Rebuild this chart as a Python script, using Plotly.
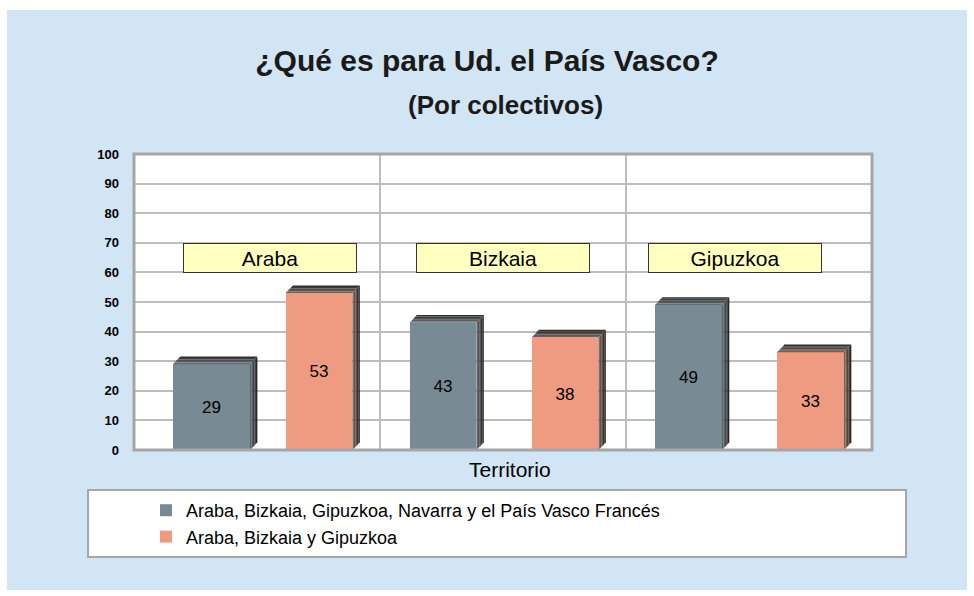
import plotly.graph_objects as go

# --- data ---------------------------------------------------------------
territorios = ["Araba", "Bizkaia", "Gipuzkoa"]
serie_nombres = [
    "Araba, Bizkaia, Gipuzkoa, Navarra y el País Vasco Francés",
    "Araba, Bizkaia y Gipuzkoa",
]
valores_amplio = [29, 43, 49]      # Araba, Bizkaia, Gipuzkoa, Navarra y el País Vasco Francés
valores_cav = [53, 38, 33]         # Araba, Bizkaia y Gipuzkoa
y_ticks = [0, 10, 20, 30, 40, 50, 60, 70, 80, 90, 100]

# --- style --------------------------------------------------------------
FONT = "Liberation Sans, Arial, sans-serif"
BG_BLUE = "#D1E5F4"
GRID = "#BDBDBD"
BORDER = "#A6A6A6"
front_colors = ["#788A94", "#EE9B82"]
side_colors = [("#5E6A70", "#1E1E1E"), ("#8A6A5E", "#1E1A18")]
top_colors = [("#6A747A", "#2A2A2A"), ("#7A6660", "#2A2826")]
# bar centre offsets within each category and bar widths, per series
offsets = [[0.315, 0.256, 0.254], [0.752, 0.752, 0.750]]
widths = [[0.313, 0.272, 0.272], [0.272, 0.272, 0.272]]
DX = 0.030   # depth of the 3D faces, x units
DY = 2.6     # depth of the 3D faces, y units
N_STRIPS = 5

W, H = 974, 596
ML, MR, MT, MB = 134, 102, 154, 146
PW, PH = W - ML - MR, H - MT - MB


def px_x(px):
    return (px - ML) / PW


def px_y(py):
    return (H - MB - py) / PH


def mix(c1, c2, t):
    a = [int(c1[i:i + 2], 16) for i in (1, 3, 5)]
    b = [int(c2[i:i + 2], 16) for i in (1, 3, 5)]
    return "#%02X%02X%02X" % tuple(round(a[k] + (b[k] - a[k]) * t) for k in range(3))


def poly(fig, xs, ys, color):
    fig.add_trace(go.Scatter(
        x=xs + [xs[0]], y=ys + [ys[0]], mode="lines", fill="toself",
        fillcolor=color, line=dict(width=0, color=color),
        hoverinfo="skip", showlegend=False))


fig = go.Figure()

series = [valores_amplio, valores_cav]
for s, vals in enumerate(series):
    xs = [i + offsets[s][i] for i in range(len(territorios))]
    fig.add_trace(go.Bar(
        x=xs, y=vals, width=widths[s], name=serie_nombres[s],
        marker=dict(color=front_colors[s], line=dict(width=0)),
        text=[str(v) for v in vals], textposition="inside",
        insidetextanchor="middle", textangle=0,
        textfont=dict(family=FONT, size=17, color="black"),
        hoverinfo="skip"))

# 3D side and top faces, derived from the same values
for s, vals in enumerate(series):
    for i, v in enumerate(vals):
        x0 = i + offsets[s][i] - widths[s][i] / 2
        x1 = i + offsets[s][i] + widths[s][i] / 2
        for k in range(N_STRIPS):
            t0, t1 = k / N_STRIPS, (k + 1) / N_STRIPS
            # side face
            poly(fig,
                 [x1 + DX * t0, x1 + DX * t0, x1 + DX * t1, x1 + DX * t1],
                 [DY * t0, v + DY * t0, v + DY * t1, DY * t1],
                 mix(side_colors[s][0], side_colors[s][1], (t0 + t1) / 2))
            # top face
            poly(fig,
                 [x0 + DX * t0, x1 + DX * t0, x1 + DX * t1, x0 + DX * t1],
                 [v + DY * t0, v + DY * t0, v + DY * t1, v + DY * t1],
                 mix(top_colors[s][0], top_colors[s][1], (t0 + t1) / 2))

shapes = [
    # blue page background
    dict(type="rect", xref="paper", yref="paper", layer="below",
         x0=px_x(7), x1=px_x(967), y0=px_y(590), y1=px_y(10),
         fillcolor=BG_BLUE, line=dict(width=0)),
    # white plotting area
    dict(type="rect", xref="paper", yref="paper", layer="below",
         x0=0, x1=1, y0=0, y1=1, fillcolor="white", line=dict(width=0)),
    # legend frame
    dict(type="rect", xref="paper", yref="paper", layer="below",
         x0=px_x(88), x1=px_x(906), y0=px_y(557), y1=px_y(490),
         fillcolor="white", line=dict(color=BORDER, width=2)),
    # plot frame
    dict(type="rect", xref="paper", yref="paper", layer="above",
         x0=0, x1=1, y0=0, y1=1, line=dict(color=BORDER, width=3)),
]

annotations = [
    dict(text="<b>(Por colectivos)</b>", xref="paper", yref="paper",
         x=px_x(505), y=px_y(105), xanchor="center", yanchor="middle",
         showarrow=False,
         font=dict(family=FONT, size=26, color="#1A1A1A")),
    dict(text="Territorio", xref="paper", yref="paper",
         x=px_x(510), y=px_y(469), xanchor="center", yanchor="middle",
         showarrow=False,
         font=dict(family=FONT, size=21, color="black")),
]
label_x = [0.553, 1.498, 2.443]
for i, name in enumerate(territorios):
    annotations.append(dict(
        text=name, x=label_x[i], y=65, xref="x", yref="y", showarrow=False,
        width=170, height=26, bgcolor="#FFFFC0", bordercolor="#333333",
        borderwidth=1, borderpad=1,
        font=dict(family=FONT, size=21, color="black")))

fig.update_layout(
    width=W, height=H,
    margin=dict(l=ML, r=MR, t=MT, b=MB),
    paper_bgcolor="white", plot_bgcolor="rgba(0,0,0,0)",
    barmode="overlay", bargap=0,
    title=dict(text="<b>¿Qué es para Ud. el País Vasco?</b>",
               x=0.5, xref="container", xanchor="center",
               y=1 - 60 / H, yref="container", yanchor="middle",
               font=dict(family=FONT, size=30, color="#1A1A1A")),
    xaxis=dict(range=[0, 3], tickvals=[1, 2], showticklabels=False,
               showgrid=True, gridcolor=GRID, gridwidth=2,
               zeroline=False, showline=False, fixedrange=True),
    yaxis=dict(range=[0, 100], tickvals=y_ticks,
               ticktext=["<b>%d</b>" % t for t in y_ticks],
               showgrid=True, gridcolor=GRID, gridwidth=2,
               zeroline=False, showline=False, ticks="",
               ticklabelstandoff=14,
               tickfont=dict(family=FONT, size=13, color="black")),
    legend=dict(x=px_x(146), xanchor="left", y=px_y(492), yanchor="top",
                bgcolor="rgba(0,0,0,0)", borderwidth=0,
                traceorder="normal", tracegroupgap=0,
                font=dict(family=FONT, size=18, color="black")),
    shapes=shapes,
    annotations=annotations,
    showlegend=True,
)

fig.write_html("out.html")
